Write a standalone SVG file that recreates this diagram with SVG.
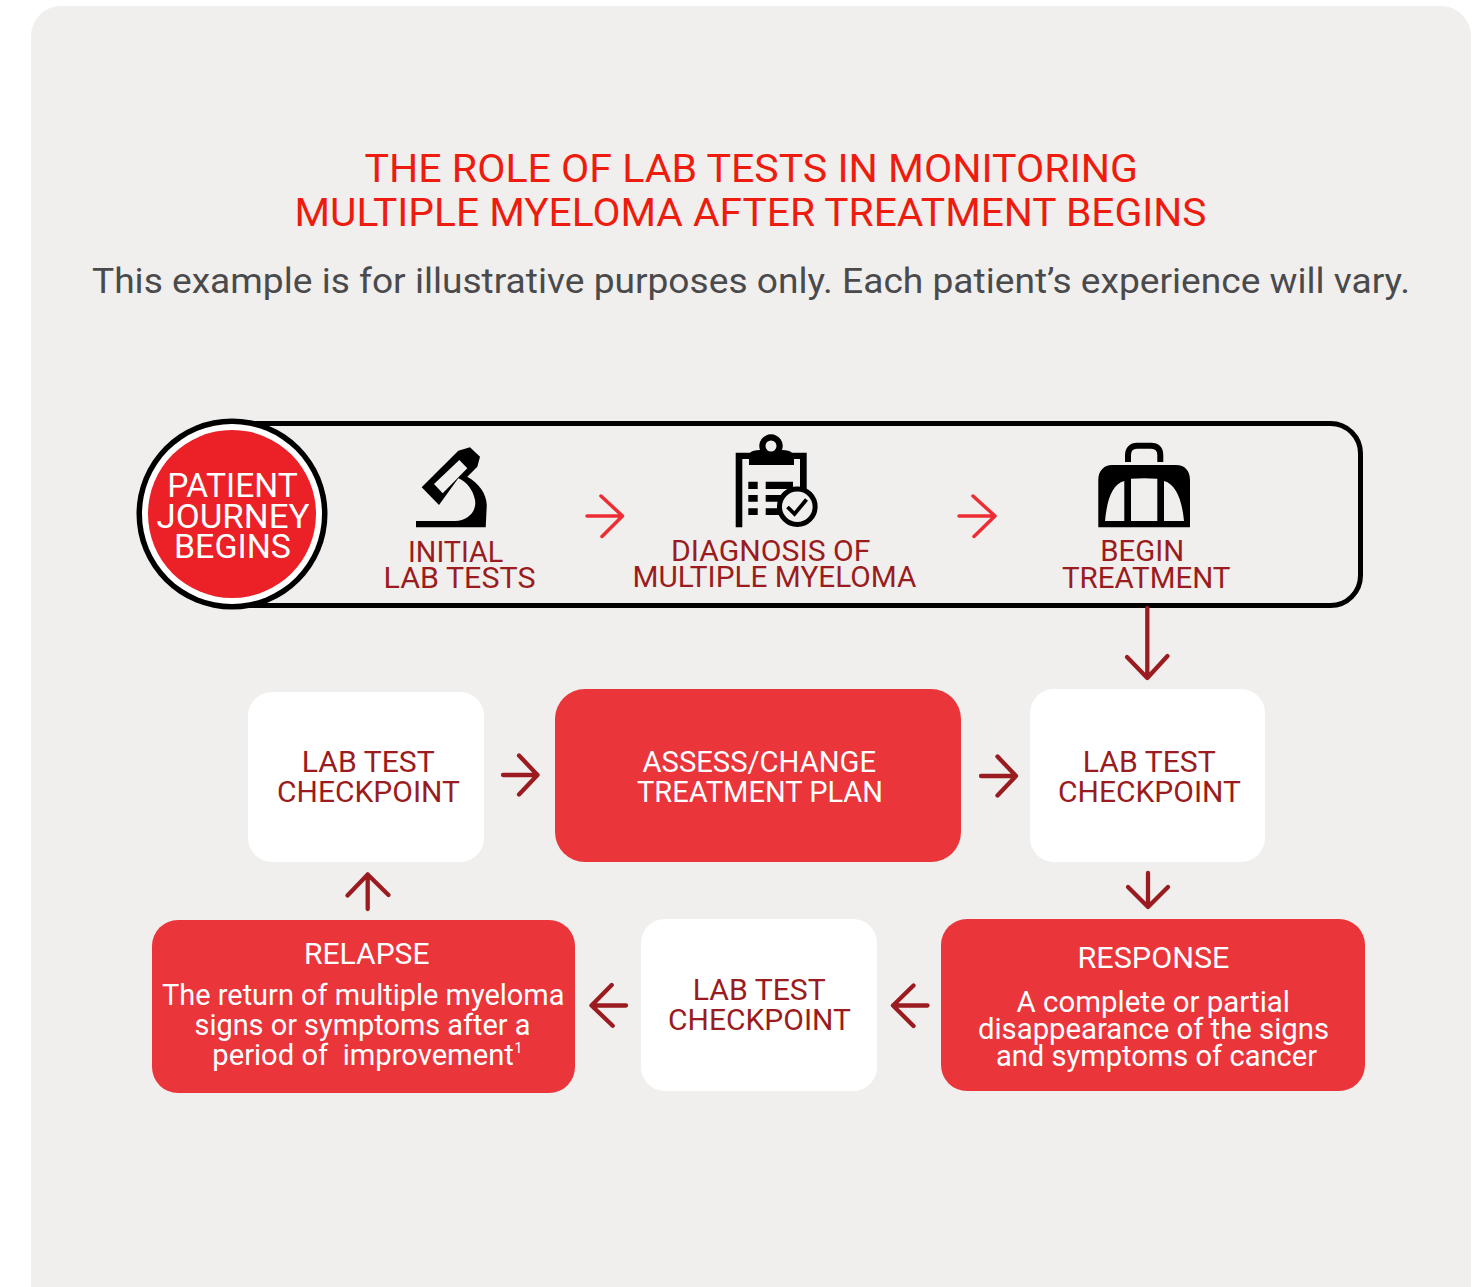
<svg xmlns="http://www.w3.org/2000/svg" width="1477" height="1287" viewBox="0 0 1477 1287">
<style>
text{font-family:Roboto,"Liberation Sans",sans-serif;font-weight:400}
.title{font-size:38px;fill:#ee1c0e}
.sub{font-size:35px;fill:#4a4a4c}
.circ{font-size:33px;fill:#fff}
.dark{font-size:29px;fill:#9b1c20}
.wt{font-size:29px;fill:#fff}
.wb{font-size:29.500px;fill:#fff}
.white{fill:#fff}
.redbox{fill:#ea353b}
.arr{fill:none;stroke-width:4.300;stroke-linecap:round;stroke-linejoin:round;stroke:#9b1c20}
.arr.bright{stroke:#ee2c34;stroke-width:3.500}
</style>
<rect x="31" y="6" width="1440" height="1320" rx="30" fill="#f0efed"/>
<g id="heading">
<text class="title" x="364.500" y="182" textLength="773.500" lengthAdjust="spacingAndGlyphs">THE ROLE OF LAB TESTS IN MONITORING</text>
<text class="title" x="294.500" y="226" textLength="912" lengthAdjust="spacingAndGlyphs">MULTIPLE MYELOMA AFTER TREATMENT BEGINS</text>
<text class="sub" x="92" y="293" textLength="1318" lengthAdjust="spacingAndGlyphs">This example is for illustrative purposes only. Each patient’s experience will vary.</text>
</g>
<g id="journey-frame"><rect x="200" y="423.500" width="1160.500" height="182" rx="30" fill="none" stroke="#000" stroke-width="5"/></g>
<g id="patient-journey-begins">
<circle cx="232" cy="514" r="95.500" fill="#000"/><circle cx="232" cy="514" r="90" fill="#fff"/><circle cx="232" cy="514" r="84" fill="#ec2027"/>
<text class="circ" x="167.300" y="497" textLength="130.400" lengthAdjust="spacingAndGlyphs">PATIENT</text>
<text class="circ" x="156.500" y="528" textLength="153" lengthAdjust="spacingAndGlyphs">JOURNEY</text>
<text class="circ" x="174" y="558" textLength="117" lengthAdjust="spacingAndGlyphs">BEGINS</text>
</g>
<g id="initial-lab-tests">
<path fill-rule="evenodd" d="M421.700 487.300L458.300 450.700L470 447.300L480 456.700L477.300 466.700L467.300 476.700C479 483 487.500 495 486.700 506.700L485.700 527.300H416V521H455C468 521 477 511 475 500C473 490 467 482 458.300 478.300L439 505ZM434 484L442.700 493.300L467.300 468.300L459.300 460Z"/>
<text class="dark" x="408" y="562.300" textLength="95.400" lengthAdjust="spacingAndGlyphs">INITIAL</text>
<text class="dark" x="383.500" y="588.300" textLength="152" lengthAdjust="spacingAndGlyphs">LAB TESTS</text>
</g>
<g id="diagnosis">
<path fill-rule="evenodd" d="M735.700 452.700H750C752 451 755 450 760 450A11.700 11.700 0 1 1 782 450C787 450 790 451 792 452.700H806.700V490H800V459H794V465H749V459H742.300V527.300H735.700ZM771 440.500A5.500 5.500 0 0 0 771 451.500A5.500 5.500 0 0 0 771 440.500Z"/>
<path d="M748.300 481.700h9.400v7.300h-9.400zM748.300 495h9.400v6.700h-9.400zM748.300 508.300h9.400v6.700h-9.400zM765.700 481.700h27.300v7.300h-27.300zM765.700 495h16v6.700h-16zM765.700 508.300h14.500v6.700h-14.500z"/>
<circle cx="797.300" cy="506.700" r="17.800" fill="#f0efed" stroke="#000" stroke-width="5"/>
<path d="M787.500 507L794.500 514L806.500 499.500" fill="none" stroke="#000" stroke-width="3.800"/>
<text class="dark" x="671" y="560.700" textLength="199.500" lengthAdjust="spacingAndGlyphs">DIAGNOSIS OF</text>
<text class="dark" x="632.500" y="586.700" textLength="284" lengthAdjust="spacingAndGlyphs">MULTIPLE MYELOMA</text>
</g>
<g id="begin-treatment">
<path d="M1128 462V455C1128 449 1132 445.700 1137 445.700H1151C1157 445.700 1160.300 449 1160.300 455V462" fill="none" stroke="#000" stroke-width="6"/>
<path fill-rule="evenodd" d="M1098.300 527.300V480C1098.300 471 1104 465 1112 465H1176C1185 465 1190 471 1190 480V527.300ZM1105 521H1124.300V481C1112 484 1107 500 1105 521ZM1131 521H1157.300V478.800C1148 478 1140 478 1131 478.800ZM1164 521H1184C1182 500 1176 484 1164 481Z"/>
<text class="dark" x="1100.300" y="561" textLength="84" lengthAdjust="spacingAndGlyphs">BEGIN</text>
<text class="dark" x="1062" y="587.700" textLength="168.500" lengthAdjust="spacingAndGlyphs">TREATMENT</text>
</g>
<g id="checkpoint-1"><rect class="white" x="248" y="692" width="236" height="170" rx="24"/>
<text class="dark" x="301.800" y="772" textLength="133" lengthAdjust="spacingAndGlyphs">LAB TEST</text>
<text class="dark" x="277" y="802" textLength="183" lengthAdjust="spacingAndGlyphs">CHECKPOINT</text></g>
<g id="assess-change"><rect class="redbox" x="555" y="689" width="406" height="173" rx="30"/>
<text class="wt" x="642.500" y="772" textLength="233.500" lengthAdjust="spacingAndGlyphs">ASSESS/CHANGE</text>
<text class="wt" x="637" y="802" textLength="246" lengthAdjust="spacingAndGlyphs">TREATMENT PLAN</text></g>
<g id="checkpoint-2"><rect class="white" x="1030" y="689" width="235" height="173" rx="24"/>
<text class="dark" x="1082.800" y="772" textLength="133" lengthAdjust="spacingAndGlyphs">LAB TEST</text>
<text class="dark" x="1058" y="802" textLength="183" lengthAdjust="spacingAndGlyphs">CHECKPOINT</text></g>
<g id="relapse"><rect class="redbox" x="152" y="920" width="423" height="173" rx="26"/>
<text class="wt" x="304" y="964" textLength="125.500" lengthAdjust="spacingAndGlyphs">RELAPSE</text>
<text class="wb" x="162" y="1005" textLength="402.500" lengthAdjust="spacingAndGlyphs">The return of multiple myeloma</text>
<text class="wb" x="194.500" y="1035" textLength="336" lengthAdjust="spacingAndGlyphs">signs or symptoms after a</text>
<text class="wb" x="212.300" y="1065" textLength="301.500" lengthAdjust="spacingAndGlyphs" xml:space="preserve">period of  improvement</text>
<text x="514.500" y="1053" font-size="14" fill="#fff">1</text></g>
<g id="checkpoint-3"><rect class="white" x="641" y="919" width="236" height="172" rx="24"/>
<text class="dark" x="692.800" y="1000" textLength="133" lengthAdjust="spacingAndGlyphs">LAB TEST</text>
<text class="dark" x="668" y="1030" textLength="183" lengthAdjust="spacingAndGlyphs">CHECKPOINT</text></g>
<g id="response"><rect class="redbox" x="941" y="919" width="424" height="172" rx="26"/>
<text class="wt" x="1077.500" y="968" textLength="152" lengthAdjust="spacingAndGlyphs">RESPONSE</text>
<text class="wb" x="1016.500" y="1011.500" textLength="273.500" lengthAdjust="spacingAndGlyphs">A complete or partial</text>
<text class="wb" x="978" y="1038.500" textLength="351" lengthAdjust="spacingAndGlyphs">disappearance of the signs</text>
<text class="wb" x="996" y="1065.500" textLength="321" lengthAdjust="spacingAndGlyphs">and symptoms of cancer</text></g>
<g id="connectors">
<path class="arr bright" d="M587 516H622.500M601 496L622.500 516L602 536.500"/>
<path class="arr bright" d="M959 516H995M973 496L995 516L974 536.500"/>
<path class="arr" d="M1147.300 608V678M1127 657L1147.300 678L1167.500 656"/>
<path class="arr" d="M503 775H537.500M519 755.500L537.500 775L519 794.500"/>
<path class="arr" d="M981 776H1016M997.500 756.500L1016 776L997.500 795.500"/>
<path class="arr" d="M1148 873V907M1128 887L1148 907L1168 887"/>
<path class="arr" d="M367.700 909V874.500M347.500 895.500L367.700 874.500L388.500 895"/>
<path class="arr" d="M626 1005.500H591.500M611.700 985L591.500 1005.500L612.700 1025.700"/>
<path class="arr" d="M927.500 1005.500H893M913.500 985.500L893 1005.500L913.500 1026"/>
</g>
</svg>
